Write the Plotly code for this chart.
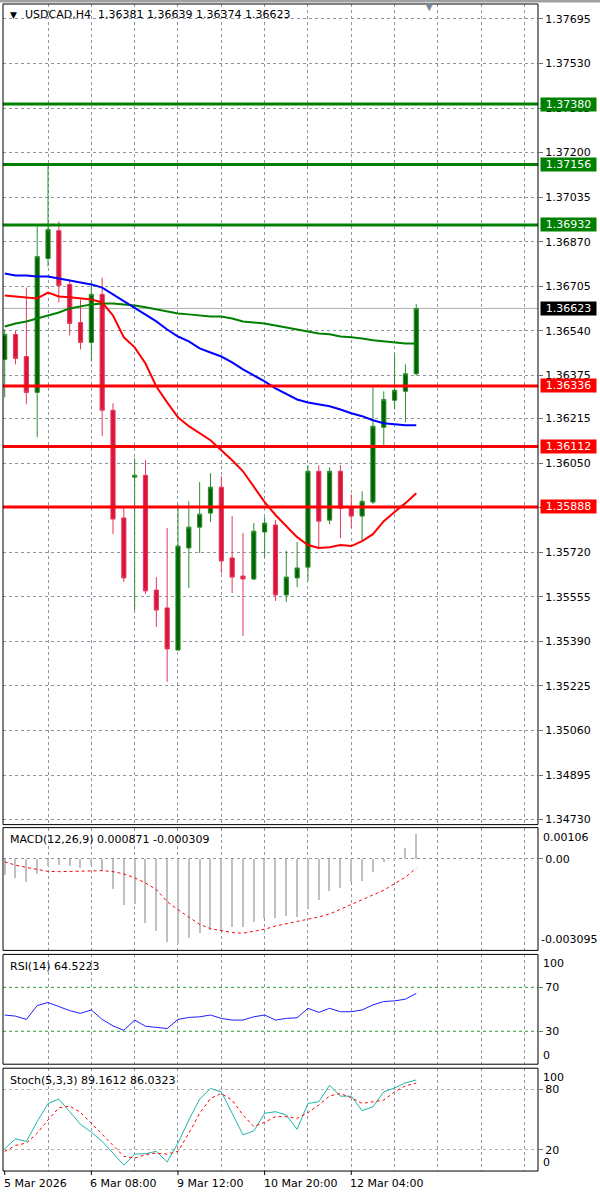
import plotly.graph_objects as go

W, H = 600, 1196
FONT = "DejaVu Sans"

# ---------------- data ----------------
BAR_INDEX = list(range(39))
OPEN = [1.36434, 1.36527, 1.36445, 1.36312, 1.36808, 1.36911, 1.36712, 1.36571, 1.36497, 1.36675,
        1.36246, 1.35847, 1.35998, 1.36005, 1.35580, 1.35514, 1.35358, 1.35736, 1.35813, 1.35865,
        1.35961, 1.35699, 1.35632, 1.35621, 1.35795, 1.35821, 1.35562, 1.35625, 1.35665, 1.36020,
        1.35839, 1.36020, 1.35887, 1.35854, 1.35906, 1.36183, 1.36283, 1.36316, 1.36381]
HIGH = [1.36545, 1.36541, 1.36700, 1.36926, 1.37152, 1.36945, 1.36730, 1.36656, 1.36723, 1.36737,
        1.36272, 1.35887, 1.36068, 1.36061, 1.35628, 1.35810, 1.35895, 1.35909, 1.35980, 1.36013,
        1.36002, 1.35854, 1.35791, 1.35828, 1.35850, 1.35839, 1.35725, 1.35758, 1.36042, 1.36042,
        1.36035, 1.36042, 1.35935, 1.35946, 1.36331, 1.36316, 1.36457, 1.36416, 1.36639]
LOW = [1.36294, 1.36416, 1.36268, 1.36146, 1.36778, 1.36645, 1.36523, 1.36471, 1.36427, 1.36150,
       1.35787, 1.35610, 1.35506, 1.35566, 1.35444, 1.35240, 1.35355, 1.35588, 1.35717, 1.35832,
       1.35643, 1.35569, 1.35410, 1.35617, 1.35702, 1.35540, 1.35536, 1.35591, 1.35614, 1.35739,
       1.35824, 1.35773, 1.35810, 1.35758, 1.35898, 1.36109, 1.36249, 1.36201, 1.36374]
CLOSE = [1.36527, 1.36438, 1.36312, 1.36815, 1.36915, 1.36708, 1.36567, 1.36497, 1.36675, 1.36246,
         1.35843, 1.35625, 1.36005, 1.35577, 1.35506, 1.35362, 1.35743, 1.35813, 1.35861, 1.35961,
         1.35688, 1.35628, 1.35621, 1.35798, 1.35828, 1.35562, 1.35628, 1.35662, 1.36020, 1.35835,
         1.36020, 1.35883, 1.35854, 1.35909, 1.36187, 1.36286, 1.36320, 1.36381, 1.36623]

BLUE_MA = [1.36752, 1.36745, 1.36745, 1.36741, 1.36741, 1.36734, 1.36726, 1.36719, 1.36712, 1.36700,
           1.36675, 1.36649, 1.36623, 1.36601, 1.36575, 1.36545, 1.36519, 1.36501, 1.36475, 1.36460,
           1.36445, 1.36423, 1.36397, 1.36375, 1.36353, 1.36327, 1.36305, 1.36286, 1.36275, 1.36268,
           1.36261, 1.36249, 1.36235, 1.36224, 1.36209, 1.36198, 1.36194, 1.36190, 1.36190]
GREEN_MA = [1.36556, 1.36567, 1.36575, 1.36586, 1.36597, 1.36608, 1.36623, 1.36630, 1.36638, 1.36641,
            1.36641, 1.36638, 1.36634, 1.36627, 1.36619, 1.36612, 1.36604, 1.36601, 1.36597, 1.36593,
            1.36593, 1.36586, 1.36575, 1.36571, 1.36567, 1.36560, 1.36553, 1.36545, 1.36538, 1.36530,
            1.36527, 1.36519, 1.36516, 1.36512, 1.36505, 1.36501, 1.36497, 1.36493, 1.36493]
RED_MA = [1.36671, 1.36667, 1.36664, 1.36660, 1.36682, 1.36667, 1.36664, 1.36660, 1.36656, 1.36645,
          1.36597, 1.36516, 1.36479, 1.36419, 1.36334, 1.36275, 1.36220, 1.36187, 1.36161, 1.36135,
          1.36098, 1.36061, 1.36020, 1.35961, 1.35906, 1.35858, 1.35817, 1.35776, 1.35747, 1.35736,
          1.35739, 1.35747, 1.35743, 1.35761, 1.35787, 1.35835, 1.35869, 1.35902, 1.35939]

MACD_MAIN = [-0.000529, -0.000639, -0.000760, -0.000507, -0.000231, -0.000176, -0.000209, -0.000287, -0.000176, -0.000397,
             -0.001003, -0.001532, -0.001521, -0.002138, -0.002435, -0.002788, -0.002876, -0.002656, -0.002491, -0.002380,
             -0.002435, -0.002292, -0.002292, -0.002105, -0.001995, -0.001973, -0.001906, -0.001940, -0.001664, -0.001366,
             -0.001080, -0.000970, -0.000760, -0.000727, -0.000419, -0.000099, 0.000030, 0.000397, 0.000871]
MACD_SIGNAL = [-0.000099, -0.000209, -0.000287, -0.000364, -0.000419, -0.000430, -0.000419, -0.000397, -0.000386, -0.000397,
               -0.000430, -0.000507, -0.000639, -0.000815, -0.001036, -0.001444, -0.001719, -0.001962, -0.002215, -0.002358,
               -0.002435, -0.002491, -0.002513, -0.002457, -0.002380, -0.002270, -0.002193, -0.002127, -0.002050, -0.001962,
               -0.001862, -0.001697, -0.001554, -0.001366, -0.001201, -0.001058, -0.000837, -0.000617, -0.000309]
RSI = [44.8, 43.8, 40.8, 53.4, 56.2, 52.5, 48.8, 46.3, 49.4, 40.8,
       34.9, 30.9, 40.2, 34.6, 33.4, 32.5, 40.8, 42.6, 43.2, 44.8,
       41.7, 40.2, 40.2, 43.2, 44.8, 40.2, 41.7, 42.3, 50.9, 47.2,
       50.9, 47.8, 47.8, 49.4, 54.0, 57.1, 57.7, 59.2, 64.5223]
STOCH_K = [21.0, 30.8, 28.2, 47.9, 65.9, 70.2, 57.7, 45.2, 37.4, 28.2,
           16.7, 4.6, 15.7, 16.1, 18.4, 7.9, 26.6, 49.5, 70.2, 80.7,
           77.4, 56.1, 34.8, 38.7, 56.1, 57.7, 54.4, 40.3, 65.9, 67.5,
           83.9, 73.1, 73.1, 58.7, 62.6, 77.4, 81.3, 86.2, 89.1612]
STOCH_D = [18.4, 24.3, 26.6, 36.4, 49.5, 61.6, 63.3, 57.0, 46.2, 34.8,
           24.3, 13.4, 11.8, 15.1, 16.7, 15.7, 18.4, 36.4, 56.1, 70.8,
           75.7, 69.2, 54.4, 43.0, 47.2, 52.8, 52.8, 51.1, 56.7, 64.3,
           73.4, 75.7, 71.5, 65.9, 67.5, 69.2, 77.4, 83.3, 86.0323]

PRICE_TICKS = [1.37695, 1.37530, 1.37365, 1.37200, 1.37035, 1.36870, 1.36705, 1.36540, 1.36375, 1.36215,
               1.36050, 1.35885, 1.35720, 1.35555, 1.35390, 1.35225, 1.35060, 1.34895, 1.34730]
PRICE_TICK_LABELS = ["1.37695", "1.37530", "1.37365", "1.37200", "1.37035", "1.36870", "1.36705", "1.36540",
                     "1.36375", "1.36215", "1.36050", "1.35885", "1.35720", "1.35555", "1.35390", "1.35225",
                     "1.35060", "1.34895", "1.34730"]
GREEN_LEVELS = [1.37380, 1.37156, 1.36932]
RED_LEVELS = [1.36336, 1.36112, 1.35888]
LAST_PRICE = 1.36623
TIME_LABELS = ["5 Mar 2026", "6 Mar 08:00", "9 Mar 12:00", "10 Mar 20:00", "12 Mar 04:00"]
TIME_LABEL_BARS = [0, 8, 16, 24, 32]
GRID_BARS = list(range(4, 49, 4))
HEADER = "USDCAD,H4  1.36381 1.36639 1.36374 1.36623"
MACD_TITLE = "MACD(12,26,9) 0.000871 -0.000309"
RSI_TITLE = "RSI(14) 64.5223"
STOCH_TITLE = "Stoch(5,3,3) 89.1612 86.0323"

# ---------------- layout helpers ----------------
def py(px):
    return 1 - px / H

GRID = "#8a96a3"
DASH = "3px,3px"
XDOM = [3 / W, 538 / W]
XRANGE = [-0.157, 49.24]
P_MAIN = (4, 826)
P_MACD = (829, 952)
P_RSI = (956, 1066)
P_STO = (1070, 1173)

fig = go.Figure()

fig.add_trace(go.Candlestick(
    x=BAR_INDEX, open=OPEN, high=HIGH, low=LOW, close=CLOSE,
    increasing=dict(line=dict(color="#2e8f2e", width=1), fillcolor="#006400"),
    decreasing=dict(line=dict(color="#e23a5c", width=1), fillcolor="#dc143c"),
    whiskerwidth=0, xaxis="x", yaxis="y", hoverinfo="skip", showlegend=False))
for ma, col in [(GREEN_MA, "#008000"), (BLUE_MA, "#0000ff"), (RED_MA, "#ff0000")]:
    fig.add_trace(go.Scatter(x=BAR_INDEX, y=ma, mode="lines", line=dict(color=col, width=2),
                             xaxis="x", yaxis="y", hoverinfo="skip", showlegend=False))

fig.add_trace(go.Bar(x=BAR_INDEX, y=MACD_MAIN, width=0.12, marker=dict(color="#c0c0c0", line=dict(width=0)),
                     xaxis="x2", yaxis="y2", hoverinfo="skip", showlegend=False))
fig.add_trace(go.Scatter(x=BAR_INDEX, y=MACD_SIGNAL, mode="lines", line=dict(color="#ff0000", width=1, dash="3px,3px"),
                         xaxis="x2", yaxis="y2", hoverinfo="skip", showlegend=False))
fig.add_trace(go.Scatter(x=BAR_INDEX, y=RSI, mode="lines", line=dict(color="#1e1eff", width=1),
                         xaxis="x3", yaxis="y3", hoverinfo="skip", showlegend=False))
fig.add_trace(go.Scatter(x=BAR_INDEX, y=STOCH_K, mode="lines", line=dict(color="#20b2aa", width=1),
                         xaxis="x4", yaxis="y4", hoverinfo="skip", showlegend=False))
fig.add_trace(go.Scatter(x=BAR_INDEX, y=STOCH_D, mode="lines", line=dict(color="#ff0000", width=1, dash="3px,3px"),
                         xaxis="x4", yaxis="y4", hoverinfo="skip", showlegend=False))

tickfont = dict(family=FONT, size=11, color="black")

def xax(anchor):
    return dict(domain=XDOM, range=XRANGE, anchor=anchor, showgrid=True, gridcolor=GRID, griddash=DASH,
                gridwidth=1, tickvals=GRID_BARS, showticklabels=False, ticks="", zeroline=False,
                showline=False, fixedrange=True)

def yax(anchor, panel, rng, **kw):
    d = dict(domain=[py(panel[1]), py(panel[0])], range=rng, anchor=anchor, side="right",
             zeroline=False, showline=False, fixedrange=True, tickfont=tickfont,
             ticks="outside", ticklen=4, tickcolor="#707070", gridcolor=GRID, griddash=DASH, gridwidth=1)
    d.update(kw)
    return d

main_top = 1.377652 - P_MAIN[0] * 0.00003697
main_bot = 1.377652 - P_MAIN[1] * 0.00003697

layout = dict(
    width=W, height=H, margin=dict(l=0, r=0, t=0, b=0),
    paper_bgcolor="white", plot_bgcolor="white", showlegend=False, hovermode=False,
    boxgap=0.45, bargap=0,
    xaxis=dict(xax("y"), rangeslider=dict(visible=False)),
    xaxis2=xax("y2"), xaxis3=xax("y3"), xaxis4=xax("y4"),
    yaxis=yax("x", P_MAIN, [main_bot, main_top], tickvals=PRICE_TICKS, ticktext=PRICE_TICK_LABELS, showgrid=True),
    yaxis2=yax("x2", P_MACD, [-0.003095, 0.00106], tickvals=[0], ticktext=["0.00"], showgrid=True),
    yaxis3=yax("x3", P_RSI, [0, 100], tickvals=[70, 30], ticktext=["70", "30"], showgrid=False),
    yaxis4=yax("x4", P_STO, [-1.1, 100.8], tickvals=[80, 20], ticktext=["80", "20"], showgrid=True,
               gridcolor="#b4b4b4"),
)
fig.update_layout(**layout)

shapes = []
for lv in GREEN_LEVELS:
    shapes.append(dict(type="line", xref="paper", yref="y", x0=XDOM[0], x1=XDOM[1], y0=lv, y1=lv,
                       line=dict(color="#008000", width=3), layer="above"))
for lv in RED_LEVELS:
    shapes.append(dict(type="line", xref="paper", yref="y", x0=XDOM[0], x1=XDOM[1], y0=lv, y1=lv,
                       line=dict(color="#ff0000", width=3), layer="above"))
shapes.append(dict(type="line", xref="paper", yref="y", x0=XDOM[0], x1=XDOM[1], y0=LAST_PRICE, y1=LAST_PRICE,
                   line=dict(color="#b0b0b0", width=1), layer="between"))
for lv in [70, 30]:
    shapes.append(dict(type="line", xref="paper", yref="y3", x0=XDOM[0], x1=XDOM[1], y0=lv, y1=lv,
                       line=dict(color="#2e9a2e", width=1, dash=DASH), layer="between"))
for p in [P_MAIN, P_MACD, P_RSI, P_STO]:
    shapes.append(dict(type="rect", xref="paper", yref="paper", x0=XDOM[0], x1=XDOM[1],
                       y0=py(p[1]), y1=py(p[0]), line=dict(color="black", width=1), layer="above"))
shapes.append(dict(type="rect", xref="paper", yref="paper", x0=0, x1=1, y0=py(2.5), y1=1,
                   line=dict(width=0), fillcolor="#a0a0a0", layer="above"))
for b in TIME_LABEL_BARS:
    shapes.append(dict(type="line", xref="x4", yref="paper", x0=b, x1=b, y0=py(P_STO[1]), y1=py(P_STO[1] + 4),
                       line=dict(color="black", width=1), layer="above"))
fig.update_layout(shapes=shapes)

ann = []
def txt(x, y, text, size=11, color="black", xanchor="left", xref="paper", **kw):
    d = dict(x=x, y=py(y), xref=xref, yref="paper", text=text, showarrow=False, xanchor=xanchor,
             yanchor="middle", font=dict(family=FONT, size=size, color=color))
    d.update(kw)
    ann.append(d)

txt(13 / W, 15, "▼", size=9, xanchor="center")
txt(23 / W, 15, HEADER)
txt(429 / W, 7, "▼", size=11, color="#7a8896", xanchor="center")
txt(8 / W, 841, MACD_TITLE)
txt(8 / W, 968, RSI_TITLE)
txt(8 / W, 1082, STOCH_TITLE)
txt(541 / W, 839, "0.00106")
txt(539 / W, 941, "-0.003095")
txt(541 / W, 965, "100")
txt(541 / W, 1057, "0")
txt(541 / W, 1079, "100")
txt(541 / W, 1164, "0")
for b, t in zip(TIME_LABEL_BARS, TIME_LABELS):
    txt(b, 1185, t, xref="x4", xshift=-3)

for lv, col in [(v, "#008000") for v in GREEN_LEVELS] + [(LAST_PRICE, "#000000")] + [(v, "#ff0000") for v in RED_LEVELS]:
    ann.append(dict(x=540 / W, y=lv, xref="paper", yref="y", text=f"{lv:.5f}", showarrow=False,
                    xanchor="left", yanchor="middle", bgcolor=col, width=55, height=13, borderpad=0,
                    align="center", font=dict(family=FONT, size=11, color="white")))
fig.update_layout(annotations=ann)

fig.write_html("out.html", config={"displayModeBar": False},
               post_script="document.body.style.margin='0';document.body.style.overflow='hidden';")
